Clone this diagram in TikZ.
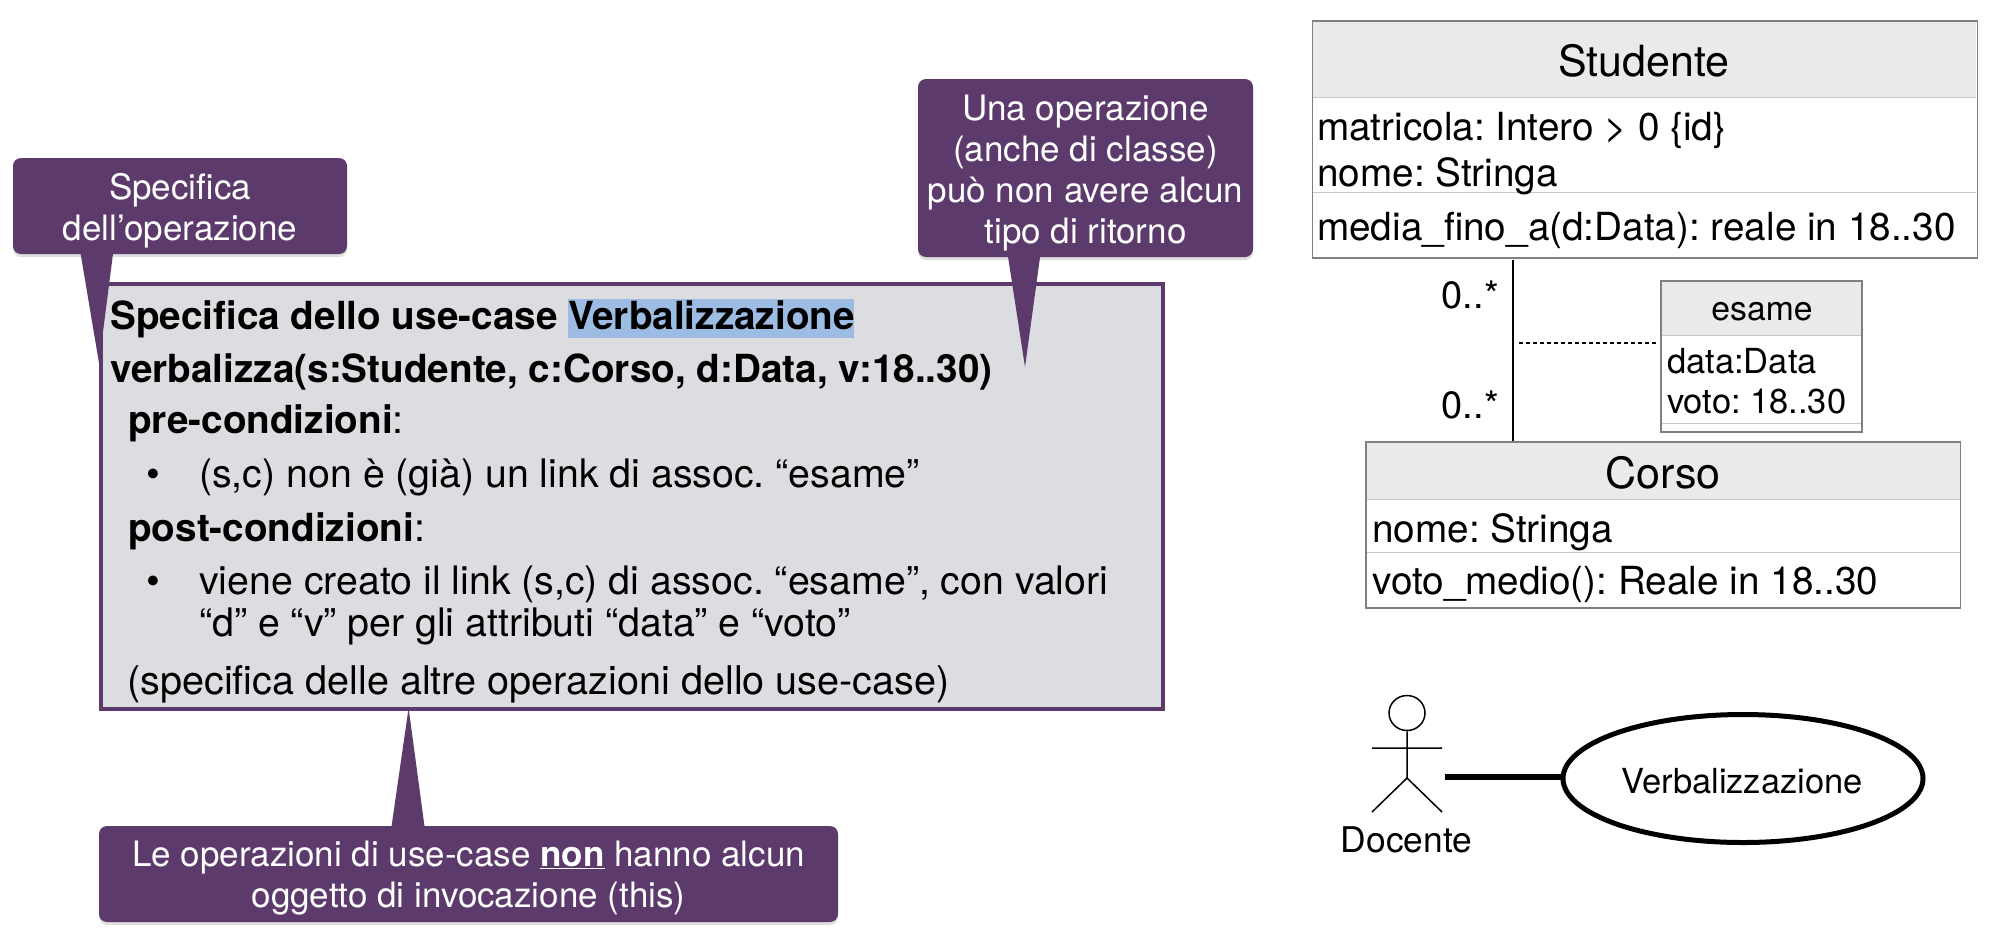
\documentclass[tikz,border=0pt]{standalone}
\usepackage{fontspec}
\setmainfont{TeX Gyre Heros}
\usetikzlibrary{shapes.geometric}
\definecolor{plum}{HTML}{5C3A6B}
\definecolor{panel}{HTML}{DCDDE0}
\definecolor{hilite}{HTML}{9DBCE3}
\definecolor{hdr}{HTML}{EAEAEA}
\definecolor{edge}{HTML}{808080}
\definecolor{sepl}{HTML}{C8C8C8}
\newcommand{\fs}[2]{\fontsize{#1}{#2}\selectfont}
\newcommand{\hd}[1]{{\fs{38.7}{48}\bfseries #1}}
\tikzset{
  x=1pt,y=-1pt,
  calloutbox/.style={fill=plum,rounded corners=8pt,inner sep=0pt},
  callouttext/.style={inner sep=0pt,text=white,align=center,font=\fs{35}{41}},
  calloutshade/.style={fill=black,opacity=.13,rounded corners=8pt,inner sep=0pt},
  maintext/.style={anchor=base west,inner sep=0pt,font=\fs{39.3}{48}},
  boldtext/.style={anchor=base west,inner sep=0pt,font=\fs{38.7}{48}\bfseries},
  attr/.style={anchor=base west,inner sep=0pt,font=\fs{38.7}{46}},
  cname/.style={anchor=base,inner sep=0pt,font=\fs{43}{50}},
  small/.style={anchor=base west,inner sep=0pt,font=\fs{34.5}{40}},
  mult/.style={anchor=base east,inner sep=0pt,font=\fs{38}{44}},
  classbox/.style={draw=edge,line width=1.2pt,inner sep=0pt},
}
\begin{document}
\frenchspacing
\begin{tikzpicture}
\useasboundingbox (0,0) rectangle (1996,938);
% main panel
\node[draw=plum,fill=panel,line width=4pt,inner sep=0pt,minimum width=1062pt,minimum height=425pt] (panel) at (632,496.5) {};
% highlight
\node[fill=hilite,inner sep=0pt,minimum width=286pt,minimum height=39pt] (hl) at (711,318) {};
\node[boldtext] (t1) at (110,329) {Specifica dello use-case Verbalizzazione};
\node[boldtext] (t2) at (110,382) {verbalizza(s:Studente, c:Corso, d:Data, v:18..30)};
\node[maintext] (t3) at (128,433) {\hd{pre-condizioni}:};
\node[maintext] (b1) at (146,487) {•};
\node[maintext] (t4) at (199,487) {(s,c) non è (già) un link di assoc. “esame”};
\node[maintext] (t5) at (128,541) {\hd{post-condizioni}:};
\node[maintext] (b2) at (146,594) {•};
\node[maintext] (t6) at (199,594) {viene creato il link (s,c) di assoc. “esame”, con valori};
\node[maintext] (t7) at (199,636) {“d” e “v” per gli attributi “data” e “voto”};
\node[maintext,font=\fs{39.6}{48}] (t8) at (127,694) {(specifica delle altre operazioni dello use-case)};
% callout 1
\node[calloutshade,minimum width=334pt,minimum height=96pt] (s1) at (180,209) {};
\fill[plum] (80,250) -- (99,363) -- (113.5,250) -- cycle;
\node[calloutbox,minimum width=334pt,minimum height=96pt] (c1) at (180,206) {};
\node[callouttext] (c1t) at (180,211) {Specifica\\dell’operazione};
% callout 2
\node[calloutshade,minimum width=335pt,minimum height=178pt] (s2) at (1085.5,171) {};
\fill[plum] (1007,250) -- (1025,367) -- (1041,250) -- cycle;
\node[calloutbox,minimum width=335pt,minimum height=178pt] (c2) at (1085.5,168) {};
\node[callouttext] (c2t) at (1085.5,173) {Una operazione\\(anche di classe)\\può non avere alcun\\tipo di ritorno};
% callout 3
\node[calloutshade,minimum width=739pt,minimum height=96pt] (s3) at (468.5,877) {};
\fill[plum] (391,830) -- (408.6,708) -- (425,830) -- cycle;
\node[calloutbox,minimum width=739pt,minimum height=96pt] (c3) at (468.5,874) {};
\node[callouttext] (c3t) at (468.5,878.5) {Le operazioni di use-case \underline{\textbf{non}} hanno alcun\\oggetto di invocazione (this)};
% Studente
\node[classbox,minimum width=665pt,minimum height=237pt] (stu) at (1644.7,139.5) {};
\fill[hdr] (1313,21.6) rectangle (1976.4,97);
\draw[sepl,line width=1pt] (1313,97) -- (1976.4,97) (1313,192) -- (1976.4,192);
\node[cname] (stun) at (1644,76) {Studente};
\node[attr] (stua) at (1317,140) {matricola: Intero > 0 \{id\}};
\node[attr] (stub) at (1317,186) {nome: Stringa};
\node[attr] (stuc) at (1317,240) {media\_fino\_a(d:Data): reale in 18..30};
% Corso
\node[classbox,minimum width=594.5pt,minimum height=166pt] (cor) at (1663.2,525) {};
\fill[hdr] (1366.6,442.6) rectangle (1959.8,499);
\draw[sepl,line width=1pt] (1366.6,499) -- (1959.8,499) (1366.6,552) -- (1959.8,552);
\node[cname] (corn) at (1663,488) {Corso};
\node[attr] (cora) at (1372,542) {nome: Stringa};
\node[attr] (corb) at (1372,594) {voto\_medio(): Reale in 18..30};
% esame
\node[classbox,minimum width=201pt,minimum height=151pt] (esa) at (1761.5,356.5) {};
\fill[hdr] (1661.6,281.6) rectangle (1861.4,335);
\draw[sepl,line width=1pt] (1661.6,335) -- (1861.4,335) (1661.6,423) -- (1861.4,423);
\node[anchor=base,inner sep=0pt,font=\fs{33.7}{40}] (esan) at (1762,320) {esame};
\node[small] (esaa) at (1667,373) {data:Data};
\node[small] (esab) at (1667,413) {voto: 18..30};
% association
\coordinate (atop) at (1513,260);
\draw[line width=2pt] (atop) -- (atop |- cor.north);
\node[mult] (m1) at (1499,308) {0..*};
\node[mult] (m2) at (1499,418) {0..*};
\coordinate (dl) at (1519,343);
\coordinate (dr) at (1657,343);
\draw[line width=2pt,dash pattern=on 4pt off 3pt] (dl) -- (dr);
% actor
\node[draw,line width=1.5pt,ellipse,inner sep=0pt,minimum width=36pt,minimum height=35pt] (head) at (1407,713) {};
\coordinate (hip) at (1407,778);
\coordinate (arml) at (1372,748);
\coordinate (armr) at (1442,748);
\coordinate (legl) at (1372,812);
\coordinate (legr) at (1442,812);
\draw[line width=1.5pt] (head.south) -- (hip) (arml) -- (armr) (legl) -- (hip) -- (legr);
\node[anchor=base,inner sep=0pt,font=\fs{35.4}{40}] (doc) at (1406.5,852) {Docente};
\node[draw,line width=5pt,ellipse,inner sep=0pt,minimum width=360pt,minimum height=128pt] (uc) at (1743,778.5) {};
\node[anchor=base,inner sep=0pt,font=\fs{34.5}{40}] (ucn) at (1742,793) {Verbalizzazione};
\coordinate (lnk) at (1444.5,777);
\draw[line width=5.5pt] (lnk) -- (lnk -| uc.west);
\end{tikzpicture}
\end{document}
